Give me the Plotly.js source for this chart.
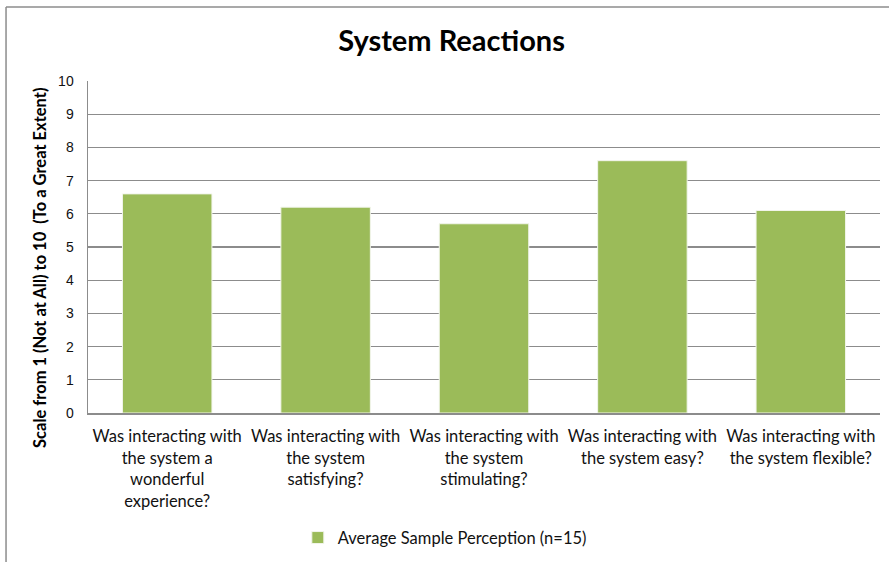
<!DOCTYPE html>
<html>
<head>
<meta charset="utf-8">
<script src="https://cdn.plot.ly/plotly-3.0.1.min.js"></script>
<style>
  html, body { margin: 0; padding: 0; background: #fff; }
  #chart { width: 889px; height: 562px; }
</style>
</head>
<body>
<div id="chart"></div>
<script>
// Survey questions (x categories) and the average rating for each
const questions = [
  "Was interacting with<br>the system a<br>wonderful<br>experience?",
  "Was interacting with<br>the system<br>satisfying?",
  "Was interacting with<br>the system<br>stimulating?",
  "Was interacting with<br>the system easy?",
  "Was interacting with<br>the system flexible?"
];
const averageScores = [6.6, 6.2, 5.7, 7.6, 6.1];
const yTicks = [0, 1, 2, 3, 4, 5, 6, 7, 8, 9, 10];
const seriesName = "Average Sample Perception (n=15)";
const yAxisTitle = "Scale from 1 (Not at All) to 10  (To a Great Extent)";

const trace = {
  type: "bar",
  x: questions,
  y: averageScores,
  name: seriesName,
  marker: { color: "#9bbb59", line: { color: "#f2f5ec", width: 1 } },
  hoverinfo: "y"
};

const layout = {
  width: 889,
  height: 562,
  paper_bgcolor: "#ffffff",
  plot_bgcolor: "#ffffff",
  margin: { l: 88, r: 9, t: 81, b: 149 },
  bargap: 0.435,
  showlegend: true,
  title: {
    text: "<b>System Reactions</b>",
    font: { family: "Lato, 'Open Sans', sans-serif", size: 29, color: "#000" },
    x: 0.508, xanchor: "center",
    y: 0.927, yanchor: "middle"
  },
  xaxis: {
    type: "category",
    showgrid: false,
    showline: true,
    linecolor: "#8c8c8c",
    linewidth: 1.5,
    ticks: "",
    tickangle: 0,
    ticklabelstandoff: 8,
    tickfont: { family: "Lato, 'Open Sans', sans-serif", size: 16.5, color: "#111" }
  },
  yaxis: {
    range: [0, 10],
    tickvals: yTicks,
    ticktext: yTicks.map(String),
    showgrid: true,
    gridcolor: "#8c8c8c",
    gridwidth: 1.2,
    showline: true,
    linecolor: "#8c8c8c",
    linewidth: 1.5,
    zeroline: false,
    ticks: "",
    ticklabelstandoff: 10,
    tickfont: { family: "'Liberation Sans', Arial, sans-serif", size: 14, color: "#111" }
  },
  // vertical axis title, placed a little below the plot's middle
  annotations: [
    {
      text: "<b>" + yAxisTitle + "</b>",
      xref: "paper", yref: "paper",
      x: -0.0606, y: 0.437,
      xanchor: "center", yanchor: "middle",
      textangle: -90,
      showarrow: false,
      font: { family: "Lato, 'Open Sans', sans-serif", size: 16.5, color: "#000" }
    }
  ],
  legend: {
    orientation: "h",
    xref: "container",
    yref: "container",
    x: 0.335, xanchor: "left",
    y: 0.043, yanchor: "middle",
    font: { family: "Lato, 'Open Sans', sans-serif", size: 16.5, color: "#111" }
  },
  shapes: [
    // outer chart frame
    { type: "line", xref: "paper", yref: "paper",
      x0: -0.1035, x1: 1.02, y0: 1.223, y1: 1.223,
      line: { color: "#8c8c8c", width: 1.5 } },
    { type: "line", xref: "paper", yref: "paper",
      x0: -0.1035, x1: -0.1035, y0: -0.45, y1: 1.223,
      line: { color: "#8c8c8c", width: 1.5 } }
  ]
};

Plotly.newPlot("chart", [trace], layout, { displayModeBar: false, staticPlot: true });
</script>
</body>
</html>
